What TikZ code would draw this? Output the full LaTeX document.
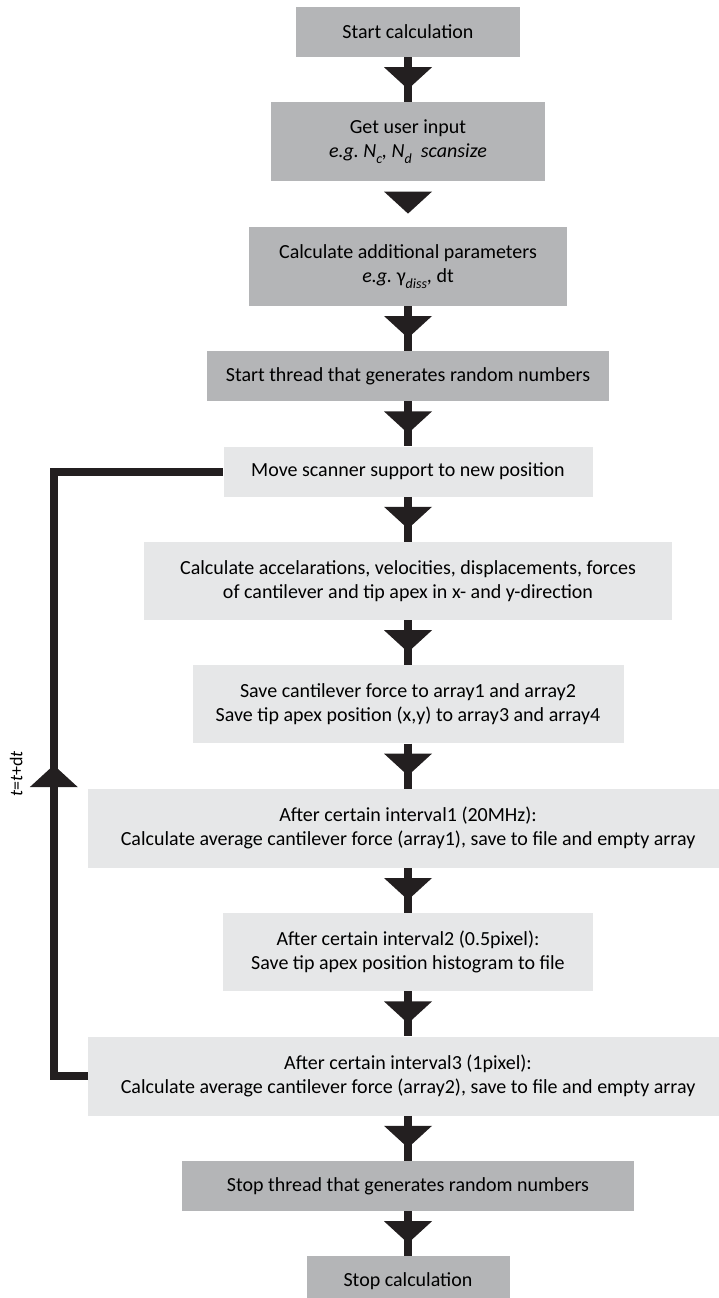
\documentclass[tikz,border=0pt]{standalone}
\usepackage{fontspec}
\setmainfont{Carlito}
\usetikzlibrary{positioning, arrows.meta, decorations.markings, calc}
\definecolor{boxdark}{RGB}{180,181,183}
\definecolor{boxlight}{RGB}{230,231,232}
\definecolor{flowblack}{RGB}{35,31,32}
\newcommand{\lowsub}[1]{\raisebox{-6pt}{\fontsize{14}{14}\selectfont #1}}

\begin{document}
\begin{tikzpicture}[
    node distance=45pt,
    % Styles for boxes and arrows
    box_dark/.style={rectangle, fill=boxdark, inner sep=0pt, minimum height=50pt, align=center, font=\fontsize{20}{24}\selectfont},
    box_light/.style={box_dark, fill=boxlight},
    flow_head/.style={postaction={decorate}, decoration={markings, mark=at position 32pt with {\arrow[flowblack]{Triangle[width=48pt, length=22pt, line width=0pt]}}}},
    flow/.style={draw=flowblack, line width=8pt, flow_head},
    loop_line/.style={draw=flowblack, line width=8pt, line join=miter, postaction={decorate}, decoration={markings, mark=at position 345pt with {\arrow[flowblack]{Triangle[width=48pt, length=22pt, line width=0pt]}}}}
]
    \useasboundingbox (0,0) rectangle (718pt,-1298pt);

    % --- SETUP (dark boxes) ---
    \node [box_dark, minimum width=224pt] (start) at (408pt,-32pt) {Start calculation};
    \node [box_dark, minimum width=274pt, minimum height=79pt, below=of start] (input) {Get user input\\\textit{e.g.\ N\lowsub{c}, N\lowsub{d}\ \ scansize}};
    \node [box_dark, minimum width=318pt, minimum height=79pt, below=of input] (params) {Calculate additional parameters\\\textit{e.g.\ }γ\lowsub{\textit{diss}}, dt};
    \node [box_dark, minimum width=402pt, below=of params] (thread) {Start thread that generates random numbers};

    % --- TIME LOOP (light boxes) ---
    \node [box_light, minimum width=369pt, below=of thread] (move) {Move scanner support to new position};
    \node [box_light, minimum width=528pt, minimum height=78pt, below=of move] (forces) {Calculate accelarations, velocities, displacements, forces\\of cantilever and tip apex in x- and y-direction};
    \node [box_light, minimum width=431pt, minimum height=78pt, below=of forces] (save) {Save cantilever force to array1 and array2\\Save tip apex position (x,y) to array3 and array4};
    \node [box_light, minimum width=640pt, minimum height=79pt, below=of save] (int1) {After certain interval1 (20MHz):\\Calculate average cantilever force (array1), save to file and empty array};
    \node [box_light, minimum width=370pt, minimum height=78pt, below=of int1] (int2) {After certain interval2 (0.5pixel):\\Save tip apex position histogram to file};
    \node [box_light, minimum width=640pt, minimum height=79pt, below=of int2] (int3) {After certain interval3 (1pixel):\\Calculate average cantilever force (array2), save to file and empty array};

    % --- SHUTDOWN (dark boxes) ---
    \node [box_dark, minimum width=452pt, below=of int3] (stopthread) {Stop thread that generates random numbers};
    \node [box_dark, minimum width=203pt, below=of stopthread] (stop) {Stop calculation};

    % --- CONNECTIONS ---
    \draw [flow] (start) -- (input);
    \path [flow_head] (input) -- (params);
    \draw [flow] (params) -- (thread);
    \draw [flow] (thread) -- (move);
    \draw [flow] (move) -- (forces);
    \draw [flow] (forces) -- (save);
    \draw [flow] (save) -- (int1);
    \draw [flow] (int1) -- (int2);
    \draw [flow] (int2) -- (int3);
    \draw [flow] (int3) -- (stopthread);
    \draw [flow] (stopthread) -- (stop);

    % Loop back: t = t + dt
    \coordinate [left=34pt of int3.west] (loopbot);
    \coordinate (looptop) at (loopbot |- move.west);
    \draw [loop_line] (int3.west) -- (loopbot) -- (looptop) -- (move.west);
    \node [rotate=90, anchor=south, inner sep=0pt, font=\fontsize{18}{20}\selectfont] (looplabel) at ($(loopbot)!0.5!(looptop)+(-31pt,0)$) {\textit{t}=\textit{t}+d\textit{t}};

\end{tikzpicture}
\end{document}
